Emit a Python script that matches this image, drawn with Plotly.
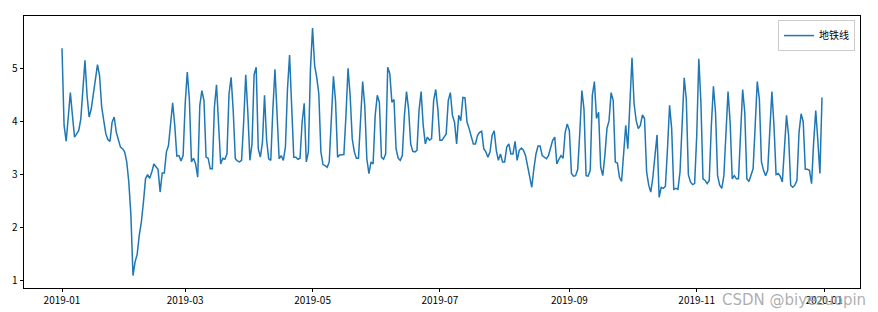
import pandas as pd
import plotly.graph_objects as go

start_date = "2019-01-01"
series_name = "地铁线"

vals_jan_feb = [
    5.39, 3.93, 3.63, 4.10, 4.55, 4.12, 3.71, 3.77, 3.83, 4.05,
    4.62, 5.16, 4.50, 4.09, 4.24, 4.50, 4.75, 5.08, 4.87, 4.28,
    4.02, 3.77, 3.66, 3.63, 3.99, 4.09, 3.80, 3.68, 3.52, 3.49,
    3.43, 3.24, 2.86, 2.23, 1.09, 1.35, 1.49, 1.85, 2.10, 2.48,
    2.92, 3.00,
]
vals_feb_apr = [
    2.93, 3.05, 3.20, 3.15, 3.10, 2.67, 3.03, 3.03, 3.43, 3.55,
    3.99, 4.36, 3.93, 3.35, 3.36, 3.26, 3.36, 4.34, 4.94, 4.43,
    3.24, 3.31, 3.20, 2.95, 4.31, 4.59, 4.40, 3.33, 3.31, 3.11,
    3.11, 4.28, 4.70, 3.99, 3.20, 3.31, 3.29, 3.39, 4.53, 4.84,
    4.21, 3.30, 3.26, 3.24, 3.27, 3.99, 4.89, 4.18, 3.27, 3.58,
    4.89, 5.03, 3.49, 3.33,
]
vals_apr_may = [
    3.61, 4.50, 3.65, 3.30, 3.27, 4.24, 4.99, 4.15, 3.30, 3.36,
    3.27, 3.52, 4.62, 5.26, 4.40, 3.33, 3.33, 3.29, 3.31, 3.99,
    4.35, 3.24, 3.43, 5.00, 5.77, 5.06, 4.84, 4.53, 3.43, 3.19,
    3.17, 3.14, 3.24, 4.12, 4.86, 4.40, 3.33, 3.37, 3.38, 3.38,
    4.12, 5.01,
]
vals_may_jul = [
    4.50, 3.68, 3.43, 3.31, 3.31, 4.12, 4.76, 4.31, 3.30, 3.02,
    3.24, 3.20, 4.12, 4.50, 4.37, 3.33, 3.29, 3.39, 5.03, 4.91,
    4.37, 4.42, 3.49, 3.31, 3.27, 3.36, 4.12, 4.57, 4.24, 3.58,
    3.44, 3.43, 3.46, 4.21, 4.57, 3.93, 3.58, 3.71, 3.65, 3.68,
    4.40, 4.61, 4.24, 3.65, 3.65, 3.71, 3.77, 4.40, 4.55, 4.12,
    3.99, 3.58, 4.12, 4.02,
]
vals_jul_aug = [
    4.46, 4.45, 3.99, 3.87, 3.71, 3.58, 3.58, 3.74, 3.80, 3.82,
    3.49, 3.43, 3.33, 3.43, 3.74, 3.83, 3.46, 3.27, 3.39, 3.24,
    3.24, 3.52, 3.58, 3.39, 3.39, 3.63, 3.27, 3.46, 3.50, 3.46,
    3.36, 3.17, 2.98, 2.76, 3.11, 3.39, 3.54, 3.54, 3.36, 3.33,
    3.30, 3.36,
]
vals_aug_oct = [
    3.50, 3.65, 3.71, 3.20, 3.29, 3.36, 3.31, 3.80, 3.96, 3.83,
    3.02, 2.97, 2.98, 3.10, 3.80, 4.59, 4.24, 2.98, 2.97, 3.08,
    4.50, 4.76, 4.06, 4.18, 3.14, 2.98, 3.36, 3.87, 4.02, 4.55,
    4.40, 3.24, 3.22, 2.95, 2.87, 3.36, 3.93, 3.49, 4.40, 5.21,
    4.34, 4.02, 3.87, 3.93, 4.13, 4.06, 3.05, 2.80, 2.67, 2.95,
    3.36, 3.75, 2.57,
]
vals_oct_nov = [
    2.76, 2.74, 2.78, 3.49, 4.31, 3.87, 2.72, 2.74, 2.72, 3.05,
    3.99, 4.83, 4.43, 3.00, 2.86, 2.81, 2.83, 3.74, 5.19, 4.37,
    2.92, 2.89, 2.83, 2.89, 3.93, 4.67, 4.18, 2.98, 2.80, 2.74,
    2.98, 3.93, 4.57, 3.99, 2.92, 2.98, 2.92, 2.92, 3.74, 4.61,
    4.18, 2.92,
]
vals_nov_dec = [
    2.87, 2.98, 3.11, 3.93, 4.76, 4.43, 3.24, 3.08, 2.98, 3.08,
    3.87, 4.57, 3.93, 3.00, 3.02, 2.97, 2.86, 3.43, 4.12, 3.74,
    2.80, 2.76, 2.80, 2.89, 3.80, 4.15, 4.00, 3.10, 3.10, 3.08,
    2.83, 3.61, 4.21, 3.65, 3.02, 4.46,
]

values = (vals_jan_feb + vals_feb_apr + vals_apr_may + vals_may_jul
          + vals_jul_aug + vals_aug_oct + vals_oct_nov + vals_nov_dec)
dates = pd.date_range(start_date, periods=len(values), freq="D")

y_ticks = [1, 2, 3, 4, 5]

font_family = "Noto Sans CJK SC, DejaVu Sans, sans-serif"

fig = go.Figure()
fig.add_trace(go.Scatter(
    x=dates, y=values, mode="lines", name=series_name,
    line=dict(color="#1f77b4", width=1.5),
))

pad = pd.Timedelta(days=(len(values) - 1) * 0.05)
fig.update_layout(
    width=878, height=312,
    margin=dict(l=24, r=18, t=16, b=24),
    paper_bgcolor="white", plot_bgcolor="white",
    font=dict(family=font_family, size=10, color="black"),
    showlegend=True,
    legend=dict(
        x=0.994, y=0.985, xanchor="right", yanchor="top",
        bordercolor="#cccccc", borderwidth=1, bgcolor="rgba(255,255,255,0.8)",
        font=dict(size=10, family=font_family),
        itemwidth=30,
    ),
    xaxis=dict(
        range=[dates[0] - pad, dates[-1] + pad],
        tickformat="%Y-%m", dtick="M2", tick0="2019-01-01",
        ticks="outside", ticklen=3.5, tickwidth=0.8, tickcolor="black",
        showline=True, linecolor="black", linewidth=0.8, mirror=True,
        showgrid=False, zeroline=False, automargin=False,
        tickfont=dict(size=10),
    ),
    yaxis=dict(
        range=[0.855, 6.0],
        tickvals=y_ticks,
        ticks="outside", ticklen=3.5, tickwidth=0.8, tickcolor="black",
        showline=True, linecolor="black", linewidth=0.8, mirror=True,
        showgrid=False, zeroline=False, automargin=False,
        tickfont=dict(size=10),
    ),
)

fig.add_annotation(
    text="CSDN @biyezuopin", xref="paper", yref="paper",
    x=1.0, y=0.0, xanchor="right", yanchor="top",
    xshift=8, yshift=-1, showarrow=False,
    font=dict(size=15, color="rgba(160,160,160,0.85)", family="DejaVu Sans, sans-serif"),
)

fig.write_html("out.html")
